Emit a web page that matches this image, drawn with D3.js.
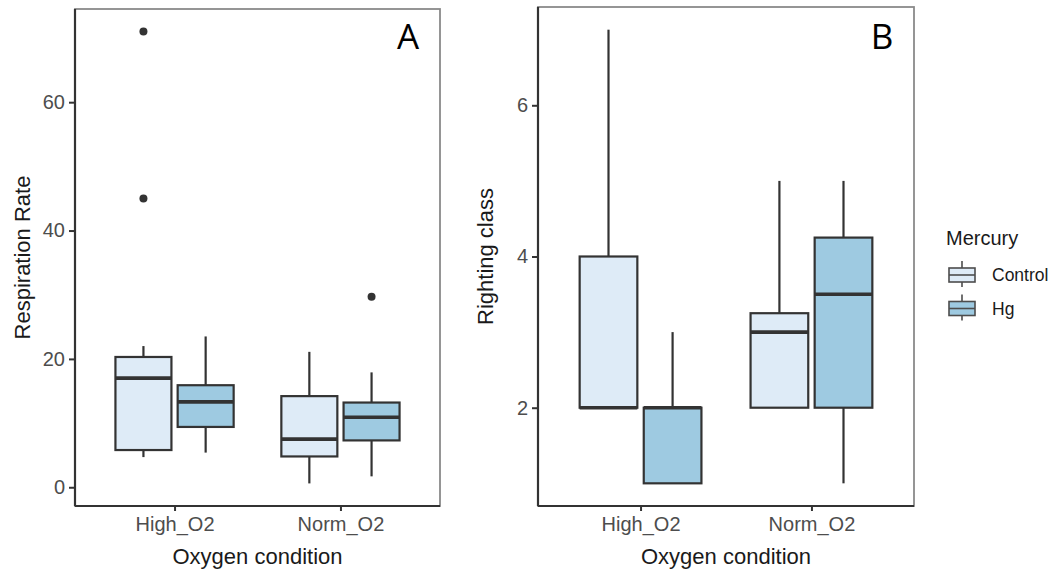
<!DOCTYPE html>
<html>
<head>
<meta charset="utf-8">
<script src="https://cdn.jsdelivr.net/npm/d3@7"></script>
<style>
  body { margin: 0; background: #fff; }
  svg { display: block; }
</style>
</head>
<body>
<div id="chart"></div>
<script>
'use strict';

// categories
const groups = ['High_O2', 'Norm_O2']
const mercury = ['Control', 'Hg']

// panel A, respiration rate: [lower whisker, q1, median, q3, upper whisker]
const resp_high_control = [4.7, 5.8, 17.0, 20.3, 22.0]
const resp_high_hg = [5.4, 9.4, 13.3, 15.9, 23.5]
const resp_norm_control = [0.6, 4.8, 7.5, 14.2, 21.1]
const resp_norm_hg = [1.7, 7.3, 10.9, 13.2, 17.9]
const resp_out_high_control = [45, 71]
const resp_out_high_hg = []
const resp_out_norm_control = []
const resp_out_norm_hg = [29.7]
const resp_ticks = [0, 20, 40, 60]

// panel B, righting class
const right_high_control = [2, 2, 2, 4, 7]
const right_high_hg = [1, 1, 2, 2, 3]
const right_norm_control = [2, 2, 3, 3.25, 5]
const right_norm_hg = [1, 2, 3.5, 4.25, 5]
const right_ticks = [2, 4, 6]

const fills = { Control: '#deebf7', Hg: '#9ecae1' }
const line_col = '#333333'

function make_boxes(stats, outliers) {
  // stats / outliers listed in order groups x mercury
  const out = []
  let k = 0
  groups.forEach(g => {
    mercury.forEach(m => {
      const s = stats[k]
      out.push({ group: g, mercury: m, lo: s[0], q1: s[1], med: s[2], q3: s[3], hi: s[4], out: outliers[k] })
      k++
    })
  })
  return out
}

const svg = d3.select('#chart').append('svg')
  .attr('width', 1057)
  .attr('height', 572)
  .style('font-family', 'Liberation Sans, Arial, sans-serif')

function draw_panel(opts) {
  const { left, right, top, bottom, boxes, ticks, y_title, tag, tag_x } = opts
  const g = svg.append('g')

  // y scale with 5% expansion like ggplot
  const all_vals = []
  boxes.forEach(b => { all_vals.push(b.lo, b.hi); b.out.forEach(v => all_vals.push(v)) })
  const ext = d3.extent(all_vals)
  const pad = (ext[1] - ext[0]) * 0.05
  const y = d3.scaleLinear().domain([ext[0] - pad, ext[1] + pad]).range([bottom, top])

  const x = d3.scalePoint().domain(groups).range([left, right]).padding(0.6)
  const step = x.step()
  const box_w = step * 0.3375
  const dodge = step * 0.1875
  const cx = b => x(b.group) + (mercury.indexOf(b.mercury) === 0 ? -dodge : dodge)

  // panel border
  g.append('rect')
    .attr('x', left).attr('y', top)
    .attr('width', right - left).attr('height', bottom - top)
    .attr('fill', 'none')
    .attr('stroke', '#8a8a8a')
    .attr('stroke-width', 1.8)

  // whiskers
  const bx = g.append('g').selectAll('g').data(boxes).join('g')
  bx.append('line')
    .attr('x1', cx).attr('x2', cx)
    .attr('y1', d => y(d.hi)).attr('y2', d => y(d.q3))
    .attr('stroke', line_col).attr('stroke-width', 2.2)
  bx.append('line')
    .attr('x1', cx).attr('x2', cx)
    .attr('y1', d => y(d.q1)).attr('y2', d => y(d.lo))
    .attr('stroke', line_col).attr('stroke-width', 2.2)
  bx.append('rect')
    .attr('x', d => cx(d) - box_w / 2)
    .attr('width', box_w)
    .attr('y', d => y(d.q3))
    .attr('height', d => y(d.q1) - y(d.q3))
    .attr('fill', d => fills[d.mercury])
    .attr('stroke', line_col)
    .attr('stroke-width', 2.2)
  bx.append('line')
    .attr('x1', d => cx(d) - box_w / 2).attr('x2', d => cx(d) + box_w / 2)
    .attr('y1', d => y(d.med)).attr('y2', d => y(d.med))
    .attr('stroke', line_col).attr('stroke-width', 3.6)
  bx.selectAll('circle')
    .data(d => d.out.map(v => ({ v: v, x: cx(d) })))
    .join('circle')
    .attr('cx', d => d.x).attr('cy', d => y(d.v))
    .attr('r', 4)
    .attr('fill', line_col)

  // axes
  const y_axis = g.append('g')
    .attr('transform', `translate(${left},0)`)
    .call(d3.axisLeft(y).tickValues(ticks).tickFormat(d3.format('d')).tickSize(6).tickPadding(4))
  const x_axis = g.append('g')
    .attr('transform', `translate(0,${bottom})`)
    .call(d3.axisBottom(x).tickSize(5).tickPadding(6))
  ;[y_axis, x_axis].forEach(a => {
    a.select('.domain').attr('stroke', line_col).attr('stroke-width', 2.2)
    a.selectAll('.tick line').attr('stroke', line_col).attr('stroke-width', 2)
    a.selectAll('.tick text')
      .attr('fill', '#4d4d4d')
      .style('font-size', '20px')
      .style('font-family', 'Liberation Sans, Arial, sans-serif')
  })
  y_axis.select('.domain').attr('d', `M0,${top}V${bottom}`)
  x_axis.select('.domain').attr('d', `M${left},0H${right}`)

  // axis titles
  g.append('text')
    .attr('x', (left + right) / 2)
    .attr('y', 564)
    .attr('text-anchor', 'middle')
    .style('font-size', '22px')
    .attr('fill', '#1a1a1a')
    .text('Oxygen condition')
  g.append('text')
    .attr('transform', `translate(${left - 45},${(top + bottom) / 2}) rotate(-90)`)
    .attr('text-anchor', 'middle')
    .style('font-size', '22px')
    .attr('fill', '#1a1a1a')
    .text(y_title)

  // panel tag
  g.append('text')
    .attr('x', tag_x)
    .attr('y', 49)
    .attr('text-anchor', 'middle')
    .style('font-family', 'Open Sans, sans-serif')
    .style('font-size', '35px')
    .attr('fill', '#000')
    .text(tag)
}

draw_panel({
  left: 75, right: 440, top: 9, bottom: 506,
  boxes: make_boxes([resp_high_control, resp_high_hg, resp_norm_control, resp_norm_hg],
    [resp_out_high_control, resp_out_high_hg, resp_out_norm_control, resp_out_norm_hg]),
  ticks: resp_ticks, y_title: 'Respiration Rate', tag: 'A', tag_x: 408
})

draw_panel({
  left: 538, right: 914, top: 7, bottom: 506,
  boxes: make_boxes([right_high_control, right_high_hg, right_norm_control, right_norm_hg],
    [[], [], [], []]),
  ticks: right_ticks, y_title: 'Righting class', tag: 'B', tag_x: 882
})

// legend
const legend = svg.append('g').attr('transform', 'translate(946,0)')
legend.append('text')
  .attr('x', 0).attr('y', 245)
  .style('font-size', '20px')
  .attr('fill', '#1a1a1a')
  .text('Mercury')

const keys = legend.selectAll('g.key')
  .data(mercury)
  .join('g')
  .attr('class', 'key')
  .attr('transform', (d, i) => `translate(0,${275 + i * 33.5})`)
keys.append('line')
  .attr('x1', 16).attr('x2', 16).attr('y1', -14).attr('y2', 12)
  .attr('stroke', '#4d4d4d').attr('stroke-width', 1.6)
keys.append('rect')
  .attr('x', 3).attr('y', -7).attr('width', 26).attr('height', 14)
  .attr('fill', d => fills[d])
  .attr('stroke', '#4d4d4d').attr('stroke-width', 1.6)
keys.append('line')
  .attr('x1', 3).attr('x2', 29).attr('y1', 0).attr('y2', 0)
  .attr('stroke', '#4d4d4d').attr('stroke-width', 1.6)
keys.append('text')
  .attr('x', 46).attr('y', 0)
  .attr('dy', '0.35em')
  .style('font-size', '17.5px')
  .attr('fill', '#1a1a1a')
  .text(d => d)
</script>
</body>
</html>
